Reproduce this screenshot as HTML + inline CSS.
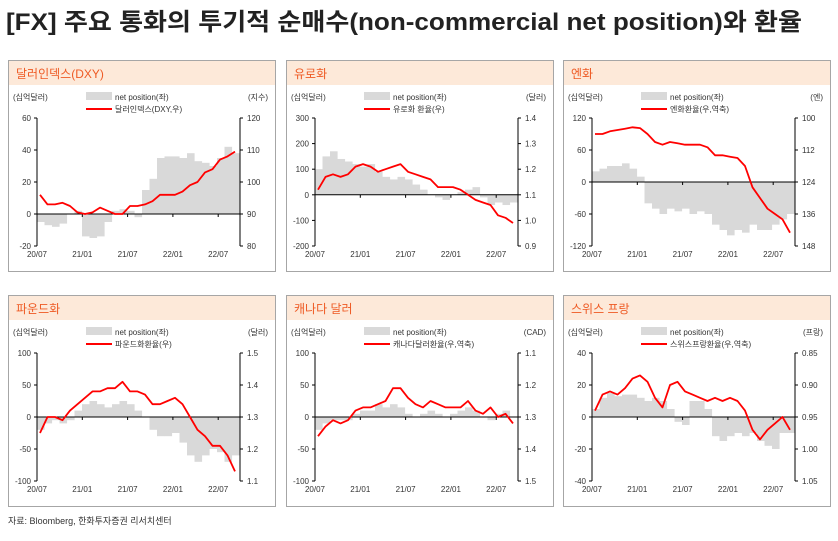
<!DOCTYPE html>
<html><head><meta charset="utf-8"><style>
body{margin:0;background:#fff;width:838px;height:536px;overflow:hidden;font-family:"Liberation Sans","Noto Sans CJK KR",sans-serif}
</style></head><body>
<svg id="s" width="838" height="536" xmlns="http://www.w3.org/2000/svg" font-family="Liberation Sans, Noto Sans CJK KR, sans-serif">
<text x="6" y="30" font-size="24" font-weight="bold" fill="#222" textLength="796" lengthAdjust="spacingAndGlyphs">[FX] 주요 통화의 투기적 순매수(non-commercial net position)와 환율</text>
<text x="8" y="524" font-size="9" fill="#333">자료: Bloomberg, 한화투자증권 리서치센터</text>
</svg>
<script>
const xLabels=["20/07","21/01","21/07","22/01","22/07"];
const net1=[-5,-7,-8,-6,0,2,-14,-15,-14,-5,2,3,2,-2,15,22,35,36,36,35,38,33,32,30,35,42,38];
const fx1=[96,93,93,93.5,92.5,90.5,90,90.5,92,91,90,90,92.5,92.5,93,94,96,96,96,97,99,100,103,104,107,108,109.5];
const net2=[100,150,170,140,130,120,110,120,90,70,60,70,60,40,20,0,-10,-20,0,10,20,30,-10,-40,-30,-40,-30];
const fx2=[1.12,1.17,1.18,1.17,1.18,1.21,1.22,1.21,1.19,1.20,1.21,1.22,1.19,1.18,1.17,1.16,1.13,1.13,1.13,1.12,1.10,1.08,1.07,1.06,1.02,1.01,0.99];
const net3=[20,25,30,30,35,25,10,-40,-50,-60,-50,-55,-50,-60,-55,-60,-80,-90,-100,-90,-95,-80,-90,-90,-80,-70,-60];
const fx3=[106,106,105,104.5,104,103.5,103.8,106,109,110,109,109.5,110,110,110,111,114,114,114.5,115,118,126,130,134,136,138,143];
const net4=[-20,-10,-5,-10,-5,10,20,25,20,15,20,25,20,10,0,-20,-30,-30,-25,-40,-60,-70,-60,-50,-55,-70,-60];
const fx4=[1.25,1.30,1.30,1.29,1.32,1.34,1.36,1.38,1.38,1.39,1.39,1.41,1.38,1.38,1.37,1.34,1.34,1.35,1.36,1.34,1.30,1.26,1.24,1.21,1.21,1.18,1.13];
const net5=[-20,-10,-5,-5,-5,5,10,10,20,15,20,15,5,0,5,10,5,0,5,10,15,10,0,-5,5,10,0];
const fx5=[1.36,1.33,1.31,1.32,1.31,1.28,1.27,1.27,1.26,1.25,1.21,1.21,1.24,1.26,1.27,1.25,1.26,1.27,1.27,1.27,1.25,1.28,1.29,1.27,1.30,1.29,1.32];
const net6=[5,12,15,13,14,14,12,10,12,10,5,-3,-5,10,10,5,-12,-15,-12,-10,-12,-10,-15,-18,-20,-10,-10];
const fx6=[0.94,0.915,0.91,0.915,0.905,0.89,0.885,0.895,0.92,0.935,0.90,0.895,0.91,0.915,0.92,0.925,0.92,0.925,0.92,0.925,0.94,0.97,0.985,0.97,0.96,0.95,0.97];
const panels=[
{ox:0,oy:0,title:"달러인덱스(DXY)",lu:"(십억달러)",ru:"(지수)",leg:"달러인덱스(DXY,우)",net:net1,fx:fx1,l:[-20,60,20],r:[80,120,10],inv:false,dec:0},
{ox:278,oy:0,title:"유로화",lu:"(십억달러)",ru:"(달러)",leg:"유로화 환율(우)",net:net2,fx:fx2,l:[-200,300,100],r:[0.9,1.4,0.1],inv:false,dec:1},
{ox:555,oy:0,title:"엔화",lu:"(십억달러)",ru:"(엔)",leg:"엔화환율(우,역축)",net:net3,fx:fx3,l:[-120,120,60],r:[100,148,12],inv:true,dec:0},
{ox:0,oy:235,title:"파운드화",lu:"(십억달러)",ru:"(달러)",leg:"파운드화환율(우)",net:net4,fx:fx4,l:[-100,100,50],r:[1.1,1.5,0.1],inv:false,dec:1},
{ox:278,oy:235,title:"캐나다 달러",lu:"(십억달러)",ru:"(CAD)",leg:"캐나다달러환율(우,역축)",net:net5,fx:fx5,l:[-100,100,50],r:[1.1,1.5,0.1],inv:true,dec:1},
{ox:555,oy:235,title:"스위스 프랑",lu:"(십억달러)",ru:"(프랑)",leg:"스위스프랑환율(우,역축)",net:net6,fx:fx6,l:[-40,40,20],r:[0.85,1.05,0.05],inv:true,dec:2}];
const S=document.getElementById('s'),NS="http://www.w3.org/2000/svg";
function mk(t,a,p,txt){const e=document.createElementNS(NS,t);for(const k in a)e.setAttribute(k,a[k]);if(txt!=null)e.textContent=txt;(p||S).appendChild(e);return e;}
panels.forEach((P,pi)=>{
 const g=mk('g',{transform:`translate(${P.ox},${P.oy})`});
 
 
 const box=mk('rect',{x:8.5,y:60.5,width:267,height:211,fill:'#fff',stroke:'#a6a6a6'},g);
 
 const band=mk('rect',{x:9,y:61,width:266,height:24,fill:'#fde9d9'},g);
 
 const tt=mk('text',{x:16,y:78,'font-size':12,fill:'#ee5a24'},g,P.title);
 
 const L=37,R=240,T=118,B=246;
 const xm=i=>L+i*7.5+3;
 const yl=v=>B-(v-P.l[0])/(P.l[1]-P.l[0])*(B-T);
 const yr=v=>P.inv?T+(v-P.r[0])/(P.r[1]-P.r[0])*(B-T):B-(v-P.r[0])/(P.r[1]-P.r[0])*(B-T);
 let t=mk('text',{x:13,y:100,'font-size':8,fill:'#333'},g,P.lu);
 t=mk('text',{x:268,y:100,'font-size':8,fill:'#333','text-anchor':'end'},g,P.ru);
 let r=mk('rect',{x:86,y:92,width:26,height:8,fill:'#d9d9d9'},g);
 t=mk('text',{x:115,y:100,'font-size':8,fill:'#333'},g,'net position(좌)');
 r=mk('line',{x1:86,x2:112,y1:109,y2:109,stroke:'#f00','stroke-width':2},g);
 t=mk('text',{x:115,y:112,'font-size':8,fill:'#333'},g,P.leg);
 P.net.forEach((v,i)=>{const y0=yl(0),y1=yl(v);
  const b=mk('rect',{x:L+i*7.5,y:Math.min(y0,y1),width:7.6,height:Math.abs(y1-y0),fill:'#d9d9d9'},g);
  });
 let a=mk('line',{x1:L,x2:L,y1:T,y2:B,stroke:'#000'},g);
 a=mk('line',{x1:R,x2:R,y1:T,y2:B,stroke:'#000'},g);
 a=mk('line',{x1:L,x2:R,y1:yl(0),y2:yl(0),stroke:'#000'},g);
 for(let v=P.l[0];v<=P.l[1]+1e-9;v+=P.l[2]){const y=yl(v);
  mk('line',{x1:L-3,x2:L,y1:y,y2:y,stroke:'#000'},g);
  const k=mk('text',{x:L-6,y:y+3,'font-size':8,fill:'#333','text-anchor':'end'},g,String(Math.round(v)));
  }
 for(let v=P.r[0];v<=P.r[1]+1e-9;v+=P.r[2]){const y=yr(v);
  mk('line',{x1:R,x2:R+3,y1:y,y2:y,stroke:'#000'},g);
  const k=mk('text',{x:R+7,y:y+3,'font-size':8,fill:'#333'},g,v.toFixed(P.dec));
  }
 xLabels.forEach((lb,i)=>{const x=L+i*45.3;
  mk('line',{x1:x,x2:x,y1:yl(0),y2:yl(0)+3,stroke:'#000'},g);
  const k=mk('text',{x:x,y:B+11,'font-size':8,fill:'#333','text-anchor':'middle'},g,lb);
  });
 const pts=P.fx.map((v,i)=>xm(i).toFixed(1)+','+yr(v).toFixed(1)).join(' ');
 const pl=mk('polyline',{points:pts,fill:'none',stroke:'#f00','stroke-width':1.8,'stroke-linejoin':'round'},g);
 
});
</script>
</body></html>
